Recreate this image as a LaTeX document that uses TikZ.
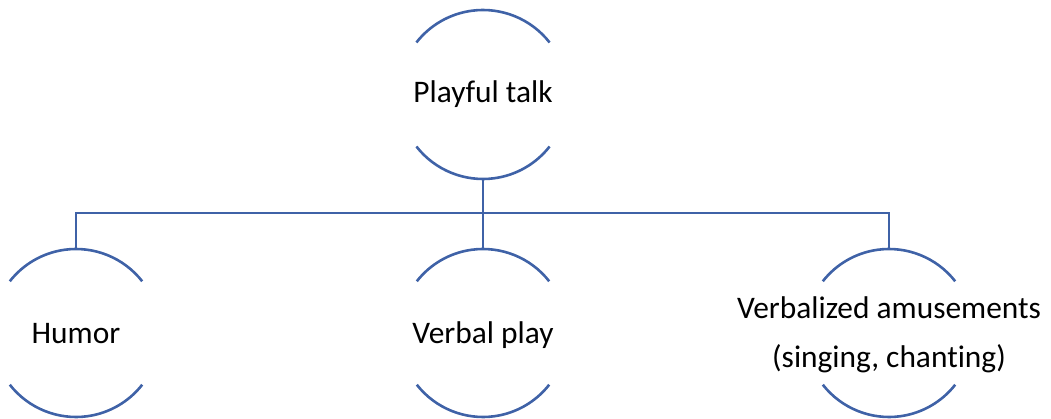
\documentclass[tikz,border=0pt]{standalone}
\usepackage{fontspec}
\setmainfont[Ligatures={NoCommon}]{Carlito}
\definecolor{arcblue}{RGB}{63,98,167}
\begin{document}
\begin{tikzpicture}[x=1pt,y=1pt,
  ring/.style={circle,draw=none,inner sep=0pt,outer sep=0pt,minimum size=#1},
  arcline/.style={draw=arcblue,line width=2.6pt},
  conn/.style={draw=arcblue,line width=2pt},
  lbl/.style={font=\fontsize{31.4}{37}\selectfont,inner sep=0pt,anchor=base,text=black}]
\useasboundingbox (0,0) rectangle (1051,418);
% shapes
\node[ring=169pt] (top) at (483,323.5) {};
\node[ring=168pt] (hum) at (76,85) {};
\node[ring=168pt] (ver) at (483,85) {};
\node[ring=168pt] (amu) at (889,85) {};
% arcs
\draw[arcline] (top.38) arc[start angle=38,end angle=142,radius=84.5pt];
\draw[arcline] (top.218) arc[start angle=218,end angle=322,radius=84.5pt];
\foreach \n in {hum,ver,amu}{
  \draw[arcline] (\n.38) arc[start angle=38,end angle=142,radius=84pt];
  \draw[arcline] (\n.218) arc[start angle=218,end angle=322,radius=84pt];
}
% connectors
\coordinate (bus) at (483,205);
\draw[conn] (top.south) -- (ver.north);
\draw[conn] (hum.north) |- (bus) -| (amu.north);
% labels
\node[lbl] (tt) at (483,315) {Playful talk};
\node[lbl] (th) at (76,75) {Humor};
\node[lbl] (tv) at (483,75) {Verbal play};
\node[lbl] (ta1) at (889,100) {Verbalized amusements};
\node[lbl] (ta2) at (889,51) {(singing, chanting)};
\end{tikzpicture}
\end{document}
